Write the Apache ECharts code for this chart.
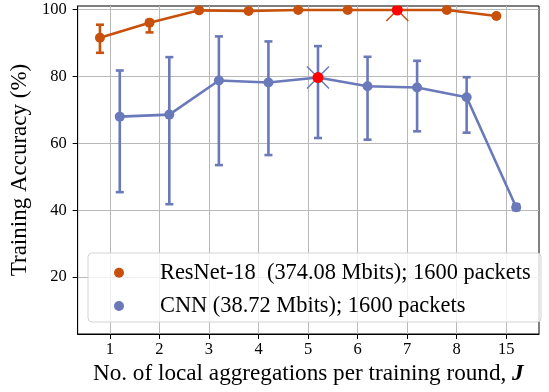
<!DOCTYPE html>
<html>
<head>
<meta charset="utf-8">
<script src="https://cdn.jsdelivr.net/npm/echarts@6/dist/echarts.min.js"></script>
<style>html,body{margin:0;padding:0;background:#fff}#c{width:549px;height:392px}</style>
</head>
<body>
<div id="c"></div>
<script>
// x-axis tick labels (categorical positions 0..8)
const xLabels = ['1', '2', '3', '4', '5', '6', '7', '8', '15'];
const yTicks = [20, 40, 60, 80, 100];

// ResNet-18 training accuracy (mean, low, high)
const resnetMean = [91.6, 96.1, 99.8, 99.6, 99.9, 99.9, 99.9, 99.9, 98.1];
const resnetLow  = [87.1, 93.2, 99.6, 99.4, 99.8, 99.8, 99.8, 99.8, 97.9];
const resnetHigh = [95.5, 96.9, 100.0, 99.8, 100.0, 100.0, 100.0, 100.0, 98.3];

// CNN training accuracy (mean, low, high)
const cnnMean = [68.0, 68.6, 78.8, 78.2, 79.7, 77.1, 76.7, 73.8, 40.9];
const cnnLow  = [45.4, 41.8, 53.5, 56.5, 61.6, 61.1, 63.6, 63.2, 40.0];
const cnnHigh = [81.8, 85.8, 92.0, 90.5, 89.1, 85.9, 84.7, 79.8, 41.8];

// highlighted (best) points: category index
const resnetBest = 6;
const cnnBest = 4;

const names = ['ResNet-18  (374.08 Mbits); 1600 packets', 'CNN (38.72 Mbits); 1600 packets'];
const colors = ['#c8500a', '#6a79b9'];
const offsets = [-0.2, 0.2];

function pts(mean, off) { return mean.map((v, i) => [i + off, v]); }
function errs(low, high, off) { return low.map((l, i) => [i + off, l, high[i]]); }

function errRender(color) {
  return function (params, api) {
    const x = api.value(0);
    const p1 = api.coord([x, api.value(1)]);
    const p2 = api.coord([x, api.value(2)]);
    const cw = 4;
    const st = { stroke: color, lineWidth: 2.6 };
    return {
      type: 'group',
      children: [
        { type: 'line', shape: { x1: p1[0], y1: p1[1], x2: p2[0], y2: p2[1] }, style: st },
        { type: 'line', shape: { x1: p1[0] - cw, y1: p1[1], x2: p1[0] + cw, y2: p1[1] }, style: st },
        { type: 'line', shape: { x1: p2[0] - cw, y1: p2[1], x2: p2[0] + cw, y2: p2[1] }, style: st }
      ]
    };
  };
}

function bestRender(color) {
  return function (params, api) {
    const p = api.coord([api.value(0), api.value(1)]);
    const a = 11;
    const st = { stroke: color, lineWidth: 1.5 };
    return {
      type: 'group',
      children: [
        { type: 'line', shape: { x1: p[0] - a, y1: p[1] - a, x2: p[0] + a, y2: p[1] + a }, style: st },
        { type: 'line', shape: { x1: p[0] - a, y1: p[1] + a, x2: p[0] + a, y2: p[1] - a }, style: st },
        { type: 'circle', shape: { cx: p[0], cy: p[1], r: 5.5 }, style: { fill: '#ff0000' } }
      ]
    };
  };
}

const font = 'Liberation Serif, Times New Roman, serif';
const chart = echarts.init(document.getElementById('c'), null, { renderer: 'canvas' });
chart.setOption({
  animation: false,
  grid: { left: 77, right: 10, top: 6, bottom: 58, show: true, borderColor: '#000', borderWidth: 1, backgroundColor: 'transparent' },
  xAxis: {
    type: 'value', min: -0.65, max: 8.66,
    axisLine: { show: true, onZero: false, lineStyle: { color: '#000', width: 1 } },
    axisTick: { show: true, length: 5, inside: false, customValues: [0, 1, 2, 3, 4, 5, 6, 7, 8], lineStyle: { color: '#000' } },
    axisLabel: { customValues: [0, 1, 2, 3, 4, 5, 6, 7, 8], formatter: v => xLabels[Math.round(v)], color: '#000', fontFamily: font, fontSize: 16.5, margin: 7 },
    splitLine: { show: true, lineStyle: { color: '#b8b8b8', width: 1 } },
    name: 'No. of local aggregations per training round, {j|J}',
    nameLocation: 'middle', nameGap: 18.5,
    nameTextStyle: { color: '#000', fontFamily: font, fontSize: 23.2, rich: { j: { fontFamily: font, fontSize: 23.2, fontWeight: 'bold', fontStyle: 'italic', color: '#000' } } }
  },
  yAxis: {
    type: 'value', min: 2.96, max: 101.1,
    axisLine: { show: true, onZero: false, lineStyle: { color: '#000', width: 1 } },
    axisTick: { show: true, length: 5, customValues: yTicks, lineStyle: { color: '#000' } },
    axisLabel: { customValues: yTicks, color: '#000', fontFamily: font, fontSize: 16.5, margin: 11 },
    splitLine: { show: true, lineStyle: { color: '#b8b8b8', width: 1 } },
    name: 'Training Accuracy (%)', nameLocation: 'middle', nameGap: 37,
    nameTextStyle: { color: '#000', fontFamily: font, fontSize: 23 }
  },
  legend: {
    orient: 'vertical', left: 114, top: 261.7, padding: 0,
    icon: 'circle', itemWidth: 72, itemHeight: 10, itemGap: 11.3,
    data: names,
    textStyle: { color: '#000', fontFamily: font, fontSize: 22.4, lineHeight: 20 },
    z: 5
  },
  graphic: [{
    type: 'rect', z: 4, shape: { x: 88, y: 253, width: 453, height: 69, r: 4 },
    style: { fill: 'rgba(255,255,255,0.8)', stroke: '#d4d4d4', lineWidth: 1 }
  }],
  series: [
    {
      name: names[0], type: 'line', data: pts(resnetMean, offsets[0]), color: colors[0],
      symbol: 'circle', symbolSize: 10, lineStyle: { width: 2.6 }, z: 3
    },
    {
      name: names[1], type: 'line', data: pts(cnnMean, offsets[1]), color: colors[1],
      symbol: 'circle', symbolSize: 10, lineStyle: { width: 2.6 }, z: 3
    },
    { type: 'custom', data: errs(resnetLow, resnetHigh, offsets[0]), renderItem: errRender(colors[0]), z: 3, clip: true },
    { type: 'custom', data: errs(cnnLow, cnnHigh, offsets[1]), renderItem: errRender(colors[1]), z: 3, clip: true },
    { type: 'custom', data: [[resnetBest + offsets[0], resnetMean[resnetBest]]], renderItem: bestRender(colors[0]), z: 4, clip: true },
    { type: 'custom', data: [[cnnBest + offsets[1], cnnMean[cnnBest]]], renderItem: bestRender(colors[1]), z: 4, clip: true }
  ]
});
</script>
</body>
</html>
